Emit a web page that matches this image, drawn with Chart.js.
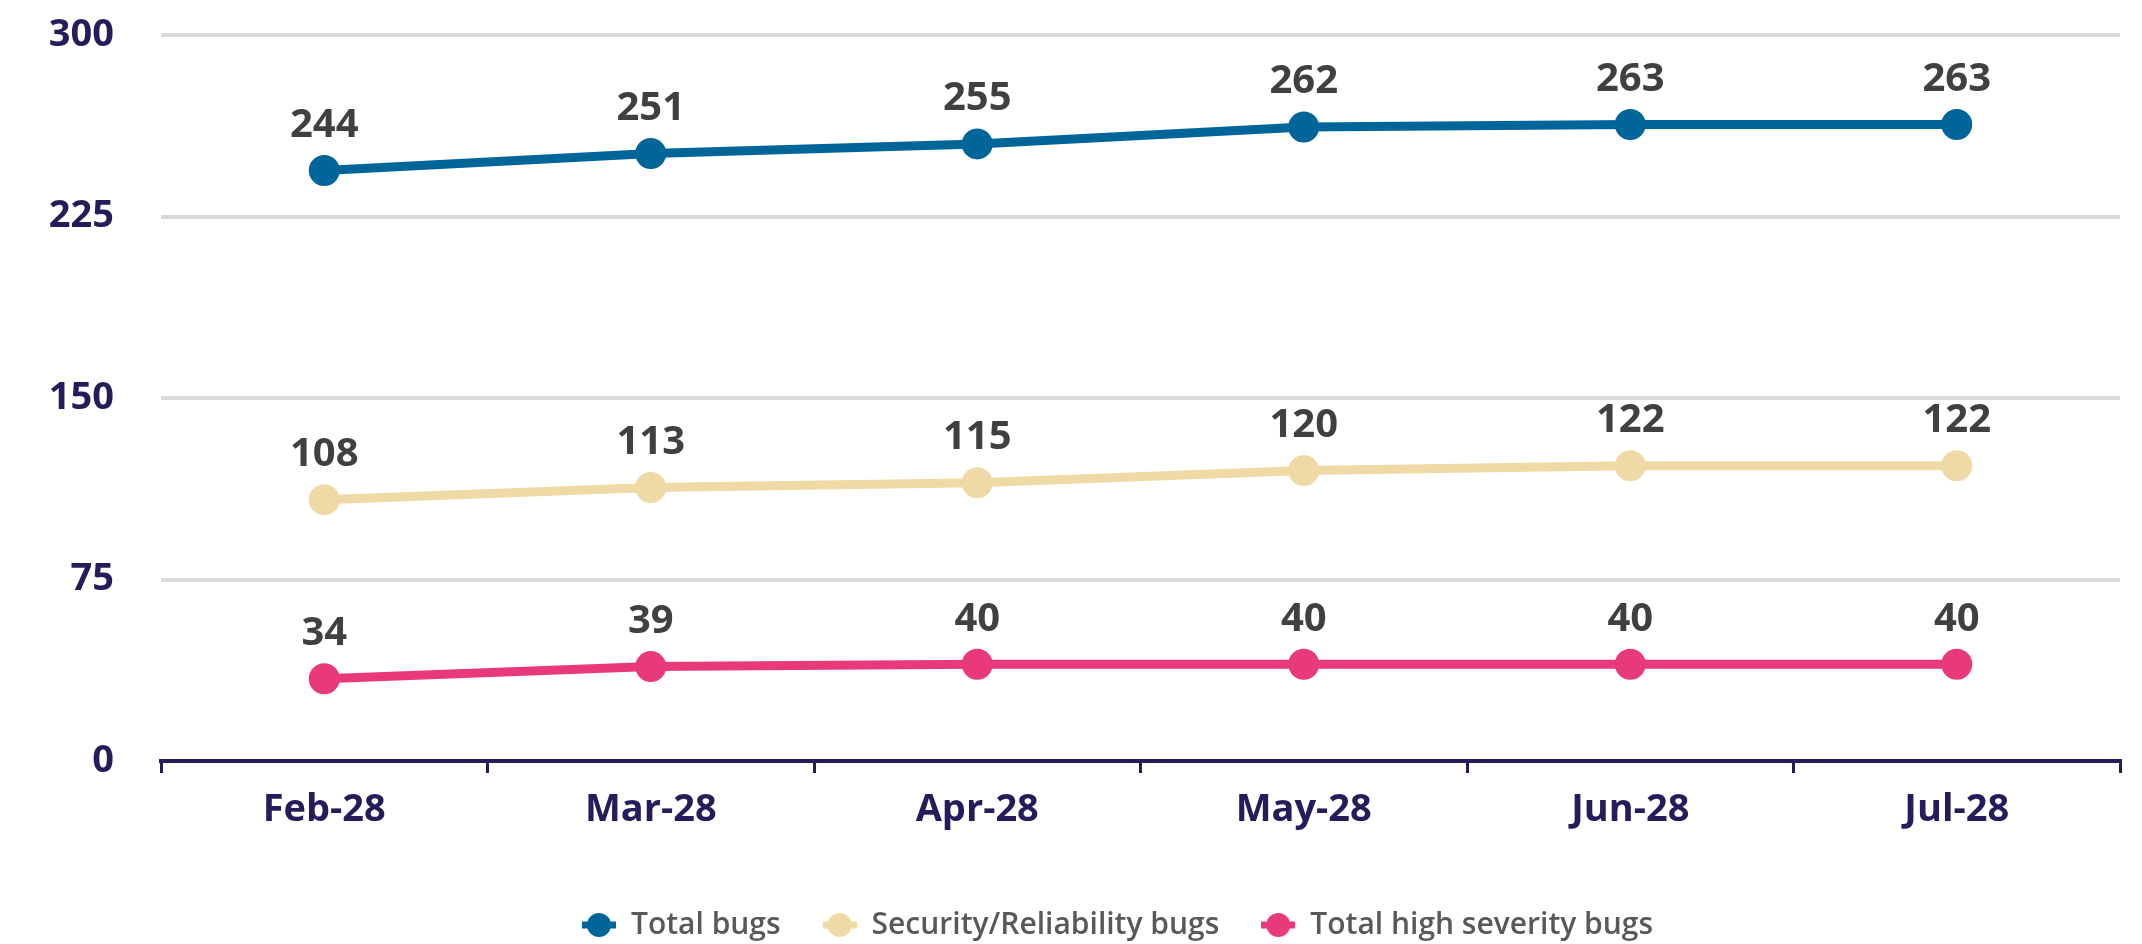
<!DOCTYPE html>
<html lang="en">
<head>
  <meta charset="UTF-8">
  <title>Bugs trend</title>
  <script src="https://cdn.jsdelivr.net/npm/chart.js"></script>
  <style>
    html, body { margin: 0; padding: 0; background: #fff; }
    #wrap { width: 2142px; height: 944px; }
  </style>
</head>
<body>
  <div id="wrap"><canvas id="chart"></canvas></div>

  <script>
    const months = ['Feb-28', 'Mar-28', 'Apr-28', 'May-28', 'Jun-28', 'Jul-28'];
    const totalBugs = [244, 251, 255, 262, 263, 263];
    const securityBugs = [108, 113, 115, 120, 122, 122];
    const highSeverityBugs = [34, 39, 40, 40, 40, 40];
    const yTicks = [0, 75, 150, 225, 300];

    const navy = '#241d5b';
    const tickFont = { family: '"Open Sans", sans-serif', size: 38, weight: 'bold' };

    // legend marker: short line with a dot on it
    function legendMarker(color) {
      const c = document.createElement('canvas');
      c.width = 34; c.height = 26;
      const g = c.getContext('2d');
      g.strokeStyle = color; g.lineWidth = 7;
      g.beginPath(); g.moveTo(0, 13); g.lineTo(34, 13); g.stroke();
      g.fillStyle = color;
      g.beginPath(); g.arc(17, 13, 12, 0, 2 * Math.PI); g.fill();
      return c;
    }

    // value labels above every point
    const valueLabels = {
      id: 'valueLabels',
      afterDatasetsDraw(chart) {
        const ctx = chart.ctx;
        ctx.save();
        ctx.font = 'bold 40px "Open Sans", sans-serif';
        ctx.fillStyle = '#404040';
        ctx.textAlign = 'center';
        ctx.textBaseline = 'middle';
        chart.data.datasets.forEach((ds, i) => {
          chart.getDatasetMeta(i).data.forEach((pt, j) => {
            ctx.fillText(ds.data[j], pt.x, pt.y - 45);
          });
        });
        ctx.restore();
      }
    };

    // nudge the legend a bit, like the original
    const legendShift = {
      id: 'legendShift',
      afterLayout(chart) {
        chart.legend.left -= 23;
        chart.legend.right -= 23;
        chart.legend.top += 6;
        chart.legend.bottom += 6;
      }
    };

    const series = [
      { label: 'Total bugs', data: totalBugs, color: '#00669a' },
      { label: 'Security/Reliability bugs', data: securityBugs, color: '#efd9a4' },
      { label: 'Total high severity bugs', data: highSeverityBugs, color: '#e83a7b' },
    ];

    new Chart(document.getElementById('chart'), {
      type: 'line',
      data: {
        labels: months,
        datasets: series.map(s => ({
          label: s.label,
          data: s.data,
          borderColor: s.color,
          backgroundColor: s.color,
          pointBackgroundColor: s.color,
          pointBorderColor: s.color,
          borderWidth: 9,
          pointRadius: 11,
          pointHoverRadius: 11,
          fill: false,
          tension: 0,
          clip: false,
        })),
      },
      options: {
        responsive: true,
        maintainAspectRatio: false,
        animation: false,
        layout: { autoPadding: false, padding: { top: 35, right: 22, left: 0, bottom: 0 } },
        plugins: {
          tooltip: { enabled: false },
          legend: {
            position: 'bottom',
            fullSize: false,
            labels: {
              usePointStyle: true,
              pointStyleWidth: 34,
              padding: 42,
              color: '#595959',
              font: { family: '"Open Sans", sans-serif', size: 30, weight: '600' },
              generateLabels(chart) {
                const items = Chart.defaults.plugins.legend.labels.generateLabels(chart);
                items.forEach((it, i) => { it.pointStyle = legendMarker(series[i].color); });
                return items;
              },
            },
          },
        },
        scales: {
          x: {
            offset: true,
            grid: { offset: true, drawOnChartArea: false, drawTicks: true, tickLength: 12, color: navy, lineWidth: 3 },
            border: { color: navy, width: 4 },
            ticks: { color: navy, font: tickFont, padding: 14 },
            afterFit(scale) { scale.height = 101; },
          },
          y: {
            min: 0,
            max: 300,
            afterBuildTicks(scale) { scale.ticks = yTicks.map(v => ({ value: v })); },
            grid: { color: '#d9d9d9', lineWidth: 4, drawTicks: false },
            border: { display: false },
            ticks: { color: navy, font: tickFont, padding: 47 },
            afterFit(scale) {
              scale.width = 161;
              scale.paddingTop = 0;
              scale.paddingBottom = 0;
            },
          },
        },
      },
      plugins: [valueLabels, legendShift],
    });
  </script>
</body>
</html>
